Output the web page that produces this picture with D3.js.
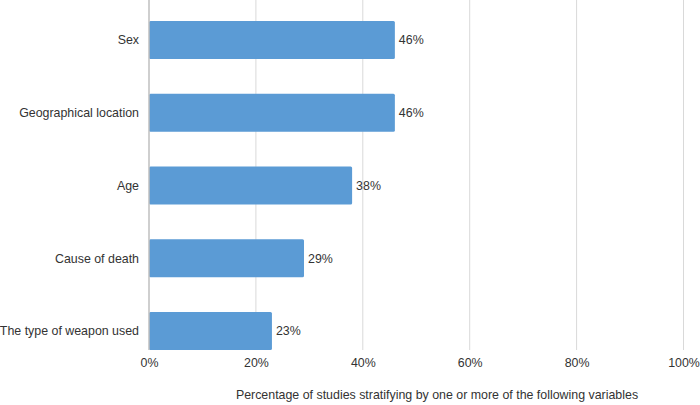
<!DOCTYPE html>
<html><head><meta charset="utf-8">
<script src="https://cdn.jsdelivr.net/npm/d3@7"></script>
<style>body{margin:0;background:#fff}svg{display:block;font-family:"Liberation Sans",Arial,sans-serif}</style>
</head><body>
<svg id="c" width="700" height="405"></svg>
<script>
const categories = ["Sex","Geographical location","Age","Cause of death","The type of weapon used"];
const values = [46,46,38,29,23];
const xTicks = [0,20,40,60,80,100];
const xTitle = "Percentage of studies stratifying by one or more of the following variables";

const FS = 12.4;
const svg = d3.select("#c");
const x = d3.scaleLinear().domain([0,100]).range([149,683.5]);
const y = d3.scaleBand().domain(categories).range([21,350]).paddingInner(0.4777).paddingOuter(0);

// gridlines
svg.append("g").selectAll("line").data(xTicks.slice(1)).join("line")
  .attr("x1",d=>x(d)).attr("x2",d=>x(d)).attr("y1",0).attr("y2",350)
  .attr("stroke","#d9d9d9").attr("stroke-width",1);

// bars
svg.append("g").selectAll("rect").data(values).join("rect")
  .attr("x",x(0)).attr("y",(d,i)=>y(categories[i]))
  .attr("width",d=>x(d)-x(0)).attr("height",y.bandwidth())
  .attr("rx",1.5).attr("fill","#5b9bd5");

// zero axis line
svg.append("line").attr("x1",x(0)).attr("x2",x(0)).attr("y1",0).attr("y2",350)
  .attr("stroke","#bfbfbf").attr("stroke-width",1.5);

// value labels
svg.append("g").selectAll("text").data(values).join("text")
  .attr("x",d=>x(d)+4).attr("y",(d,i)=>y(categories[i])+y.bandwidth()/2)
  .attr("dy","0.35em").attr("font-size",FS).attr("fill","#333")
  .text(d=>d+"%");

// category labels
svg.append("g").selectAll("text").data(categories).join("text")
  .attr("x",139).attr("y",d=>y(d)+y.bandwidth()/2).attr("dy","0.35em")
  .attr("text-anchor","end").attr("font-size",FS).attr("fill","#333")
  .text(d=>d);

// x tick labels
const xAxis = d3.axisBottom(x).tickValues(xTicks).tickFormat(d=>d+"%").tickSize(0).tickPadding(8);
const ax = svg.append("g").attr("transform","translate(0,350)").call(xAxis);
ax.select(".domain").remove();
ax.selectAll("text").attr("font-size",FS).attr("fill","#333").attr("font-family","'Liberation Sans',Arial,sans-serif");

// x title
svg.append("text").attr("x",437).attr("y",395).attr("dy","0.35em").attr("text-anchor","middle")
  .attr("font-size",FS).attr("fill","#333").text(xTitle);
</script>
</body></html>
